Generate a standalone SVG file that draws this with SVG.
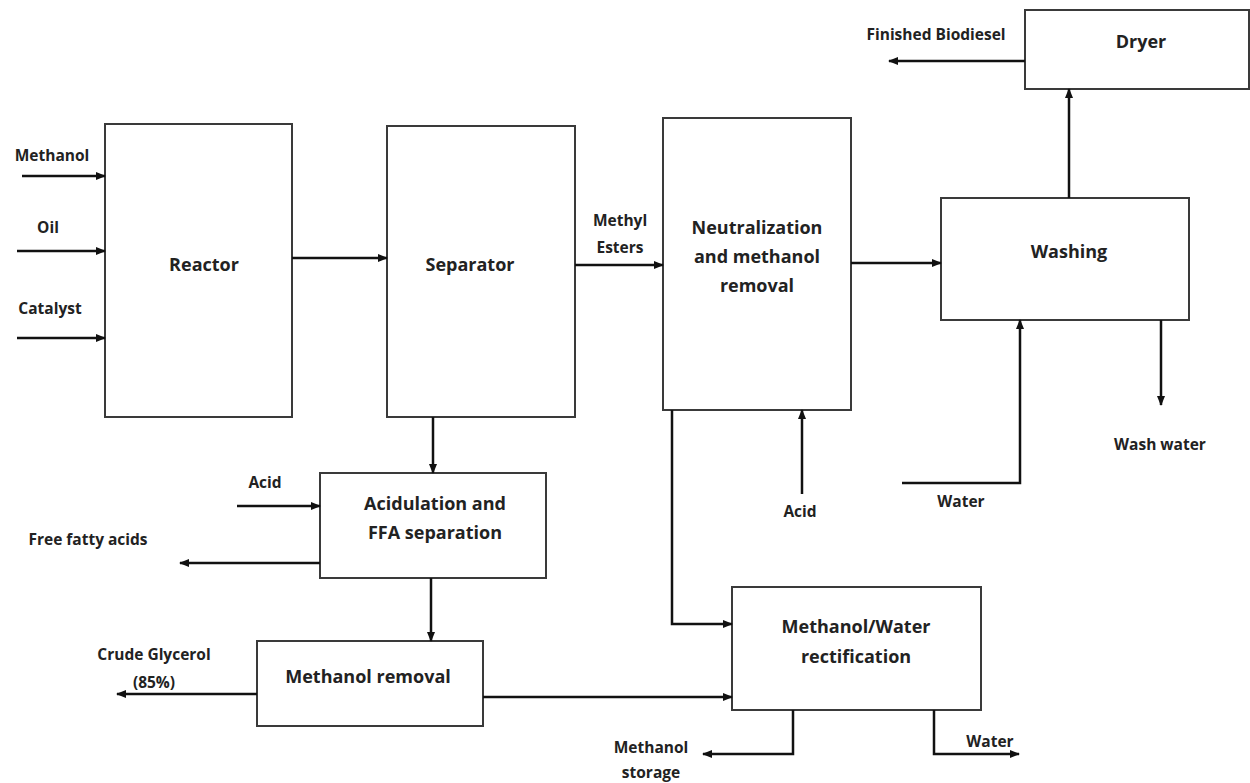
<svg xmlns="http://www.w3.org/2000/svg" width="1250" height="783" viewBox="0 0 1250 783">
<style>
.box{fill:#fff;stroke:#3a3a3a;stroke-width:2}
.ln{fill:none;stroke:#111;stroke-width:2.5}
.t{font-family:"Open Sans","Liberation Sans",sans-serif;font-weight:bold;font-size:18px;fill:#222;text-anchor:middle}
.tl{font-family:"Open Sans","Liberation Sans",sans-serif;font-weight:bold;font-size:15.5px;fill:#222;text-anchor:middle}
</style>
<defs>
<marker id="ah" markerWidth="10" markerHeight="8" refX="9" refY="4" orient="auto" markerUnits="userSpaceOnUse">
<path d="M0,0 L10,4 L0,8 Z" fill="#111"/>
</marker>
</defs>
<rect width="1250" height="783" fill="#fff"/>

<g id="reactor"><rect class="box" x="105" y="124" width="187" height="293"/><text class="t" x="204" y="271">Reactor</text></g>
<g id="separator"><rect class="box" x="387" y="126" width="188" height="291"/><text class="t" x="470" y="271">Separator</text></g>
<g id="neutralization"><rect class="box" x="663" y="118" width="188" height="292"/>
<text class="t" x="757" y="234">Neutralization</text><text class="t" x="757" y="263">and methanol</text><text class="t" x="757" y="292">removal</text></g>
<g id="washing"><rect class="box" x="941" y="198" width="248" height="122"/><text class="t" x="1069" y="258">Washing</text></g>
<g id="dryer"><rect class="box" x="1025" y="10" width="224" height="79"/><text class="t" x="1141" y="48">Dryer</text></g>
<g id="acidulation"><rect class="box" x="320" y="473" width="226" height="105"/>
<text class="t" x="435" y="510">Acidulation and</text><text class="t" x="435" y="539">FFA separation</text></g>
<g id="methanol-removal"><rect class="box" x="257" y="641" width="226" height="85"/><text class="t" x="368" y="683">Methanol  removal</text></g>
<g id="rectification"><rect class="box" x="732" y="587" width="249" height="123"/>
<text class="t" x="856" y="633">Methanol/Water</text><text class="t" x="856" y="663">rectification</text></g>

<g id="connectors">
<line class="ln" x1="22" y1="176" x2="105" y2="176" marker-end="url(#ah)"/>
<line class="ln" x1="17" y1="251" x2="105" y2="251" marker-end="url(#ah)"/>
<line class="ln" x1="17" y1="338" x2="105" y2="338" marker-end="url(#ah)"/>
<line class="ln" x1="292" y1="258" x2="387" y2="258" marker-end="url(#ah)"/>
<line class="ln" x1="575" y1="265" x2="663" y2="265" marker-end="url(#ah)"/>
<line class="ln" x1="851" y1="263" x2="941" y2="263" marker-end="url(#ah)"/>
<line class="ln" x1="1069" y1="198" x2="1069" y2="89" marker-end="url(#ah)"/>
<line class="ln" x1="1025" y1="61" x2="889" y2="61" marker-end="url(#ah)"/>
<line class="ln" x1="1161" y1="320" x2="1161" y2="405" marker-end="url(#ah)"/>
<polyline class="ln" points="902,483 1020,483 1020,320" marker-end="url(#ah)"/>
<line class="ln" x1="802" y1="494" x2="802" y2="410" marker-end="url(#ah)"/>
<polyline class="ln" points="672,410 672,624 732,624" marker-end="url(#ah)"/>
<line class="ln" x1="433" y1="417" x2="433" y2="473" marker-end="url(#ah)"/>
<line class="ln" x1="237" y1="506" x2="320" y2="506" marker-end="url(#ah)"/>
<line class="ln" x1="320" y1="563" x2="180" y2="563" marker-end="url(#ah)"/>
<line class="ln" x1="431" y1="578" x2="431" y2="641" marker-end="url(#ah)"/>
<line class="ln" x1="257" y1="694" x2="117" y2="694" marker-end="url(#ah)"/>
<line class="ln" x1="483" y1="697" x2="732" y2="697" marker-end="url(#ah)"/>
<polyline class="ln" points="793,710 793,754 703,754" marker-end="url(#ah)"/>
<polyline class="ln" points="934,710 934,754 1019,754" marker-end="url(#ah)"/>
</g>

<g id="labels">
<text class="tl" x="52" y="161">Methanol</text>
<text class="tl" x="48" y="233">Oil</text>
<text class="tl" x="50" y="314">Catalyst</text>
<text class="tl" x="620" y="226">Methyl</text>
<text class="tl" x="620" y="253">Esters</text>
<text class="tl" x="936" y="40">Finished Biodiesel</text>
<text class="tl" x="1160" y="450">Wash water</text>
<text class="tl" x="961" y="507">Water</text>
<text class="tl" x="800" y="517">Acid</text>
<text class="tl" x="265" y="488">Acid</text>
<text class="tl" x="88" y="545">Free fatty acids</text>
<text class="tl" x="154" y="660">Crude Glycerol</text>
<text class="tl" x="154" y="688">(85%)</text>
<text class="tl" x="651" y="753">Methanol</text>
<text class="tl" x="651" y="778">storage</text>
<text class="tl" x="990" y="747">Water</text>
</g>
</svg>
